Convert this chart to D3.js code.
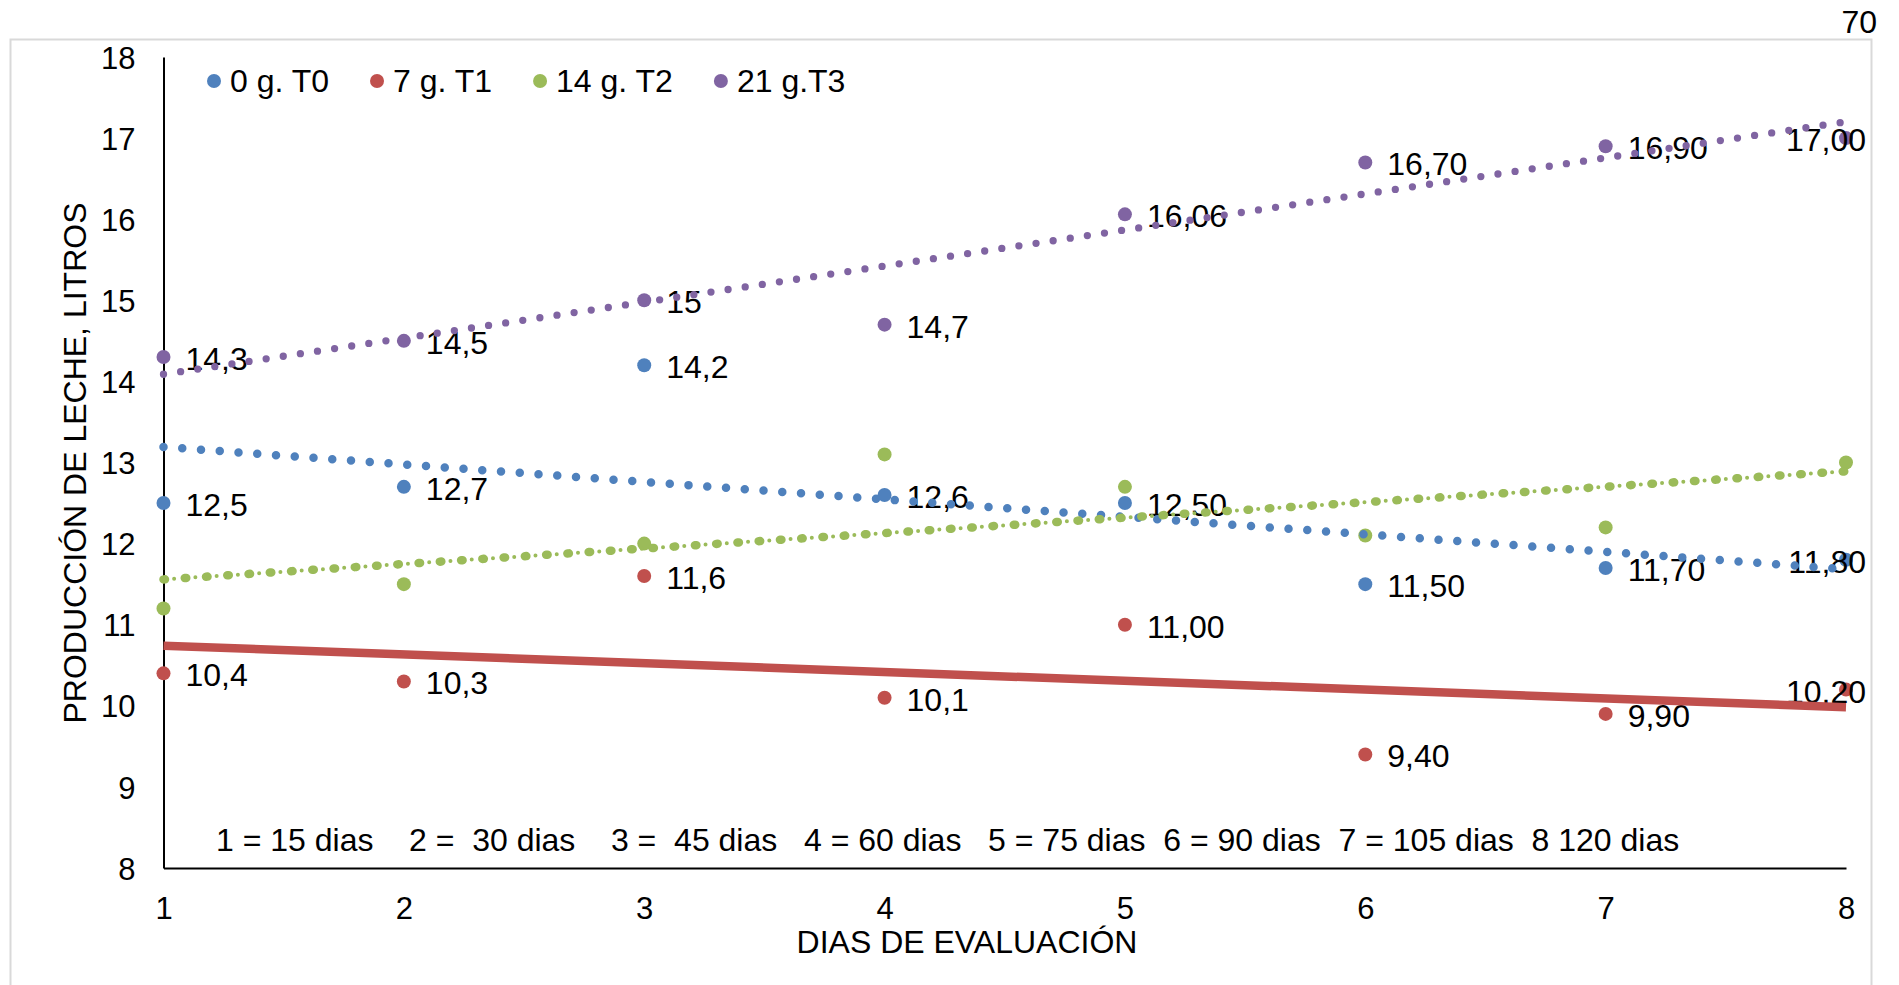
<!DOCTYPE html>
<html>
<head>
<meta charset="utf-8">
<script src="https://cdn.jsdelivr.net/npm/d3@7"></script>
<style>
  html, body { margin: 0; padding: 0; background: #ffffff; }
  svg { display: block; font-family: "Liberation Sans", Arial, sans-serif; }
  text { white-space: pre; }
</style>
</head>
<body>
<svg id="chart" width="1899" height="985"></svg>
<script>
// ---- data ----
const days = [1, 2, 3, 4, 5, 6, 7, 8];
const seriesNames = ["0 g. T0", "7 g. T1", "14 g. T2", "21 g.T3"];
const t0Values = [12.5, 12.7, 14.2, 12.6, 12.5, 11.5, 11.7, 11.8];
const t0Labels = ["12,5", "12,7", "14,2", "12,6", "12,50", "11,50", "11,70", "11,80"];
const t1Values = [10.4, 10.3, 11.6, 10.1, 11.0, 9.4, 9.9, 10.2];
const t1Labels = ["10,4", "10,3", "11,6", "10,1", "11,00", "9,40", "9,90", "10,20"];
const t2Values = [11.2, 11.5, 12.0, 13.1, 12.7, 12.1, 12.2, 13.0];
const t3Values = [14.3, 14.5, 15.0, 14.7, 16.06, 16.70, 16.90, 17.00];
const t3Labels = ["14,3", "14,5", "15", "14,7", "16,06", "16,70", "16,90", "17,00"];
const yTicks = [8, 9, 10, 11, 12, 13, 14, 15, 16, 17, 18];
const xTicks = [1, 2, 3, 4, 5, 6, 7, 8];
const xTitle = "DIAS DE EVALUACIÓN";
const yTitle = "PRODUCCIÓN DE LECHE, LITROS";
const noteText = "1 = 15 dias    2 =  30 dias    3 =  45 dias   4 = 60 dias   5 = 75 dias  6 = 90 dias  7 = 105 dias  8 120 dias";
const cornerText = "70";

// ---- styles ----
const colors = ["#4f81bd", "#c0504d", "#9bbb59", "#8064a2"];
const series = [
  { name: seriesNames[0], values: t0Values, labels: t0Labels, color: colors[0] },
  { name: seriesNames[1], values: t1Values, labels: t1Labels, color: colors[1] },
  { name: seriesNames[2], values: t2Values, labels: null, color: colors[2] },
  { name: seriesNames[3], values: t3Values, labels: t3Labels, color: colors[3] }
];

const svg = d3.select("#chart");
const FS = 32;

// outer chart frame
svg.append("rect")
  .attr("x", 10.5).attr("y", 39.5)
  .attr("width", 1861).attr("height", 960)
  .attr("fill", "none").attr("stroke", "#d9d9d9").attr("stroke-width", 2);

// corner text
svg.append("text").attr("x", 1877).attr("y", 33)
  .attr("text-anchor", "end").attr("font-size", FS).attr("fill", "#000")
  .text(cornerText);

const x = d3.scaleLinear().domain([1, 8]).range([163.5, 1846]);
const y = d3.scaleLinear().domain([8, 18]).range([868, 57]);

// axes
const yAxis = svg.append("g").attr("transform", `translate(${x(1)},0)`)
  .call(d3.axisLeft(y).tickValues(yTicks).tickSize(0).tickSizeOuter(0).tickPadding(28).tickFormat(d3.format("d")));
const xAxis = svg.append("g").attr("transform", `translate(0,${y(8)})`)
  .call(d3.axisBottom(x).tickValues(xTicks).tickSize(0).tickSizeOuter(0).tickPadding(29).tickFormat(d3.format("d")));
[yAxis, xAxis].forEach(g => {
  g.select(".domain").attr("stroke", "#000").attr("stroke-width", 2);
  g.selectAll("text").attr("font-size", 31).attr("fill", "#000")
    .attr("font-family", "'Liberation Sans', Arial, sans-serif");
});
yAxis.selectAll("text").attr("dy", "0.36em");

// axis titles
svg.append("text").attr("x", 967).attr("y", 953)
  .attr("text-anchor", "middle").attr("font-size", FS).attr("fill", "#000").text(xTitle);
svg.append("text").attr("transform", "translate(86,463) rotate(-90)")
  .attr("text-anchor", "middle").attr("font-size", FS).attr("fill", "#000").text(yTitle);

// note text
svg.append("text").attr("x", 216).attr("y", 851)
  .attr("font-size", FS).attr("fill", "#000").text(noteText);

// legend
const legend = svg.append("g");
let lx = 214;
series.forEach(s => {
  legend.append("circle").attr("cx", lx).attr("cy", 81).attr("r", 7).attr("fill", s.color);
  const t = legend.append("text").attr("x", lx + 16).attr("y", 92)
    .attr("font-size", FS).attr("fill", "#000").text(s.name);
  const w = t.node().getComputedTextLength();
  lx = lx + 16 + w + 48;
});

// markers
series.forEach(s => {
  svg.append("g").selectAll("circle").data(s.values).join("circle")
    .attr("cx", (d, i) => x(days[i]))
    .attr("cy", d => y(d))
    .attr("r", 7)
    .attr("fill", s.color);
});

// data labels
const labelRight = 1866;
series.forEach(s => {
  if (!s.labels) return;
  const g = svg.append("g");
  s.values.forEach((v, i) => {
    const t = g.append("text")
      .attr("x", x(days[i]) + 22)
      .attr("y", y(v) + 13)
      .attr("font-size", FS).attr("fill", "#000")
      .text(s.labels[i]);
    const w = t.node().getComputedTextLength();
    if (x(days[i]) + 22 + w > labelRight) t.attr("x", labelRight - w);
  });
});

// linear trendlines (least squares)
function fit(vals) {
  const n = vals.length;
  const mx = d3.mean(days), my = d3.mean(vals);
  let sxy = 0, sxx = 0;
  for (let i = 0; i < n; i++) {
    sxy += (days[i] - mx) * (vals[i] - my);
    sxx += (days[i] - mx) * (days[i] - mx);
  }
  const b = sxy / sxx, a = my - b * mx;
  return [[days[0], a + b * days[0]], [days[n - 1], a + b * days[n - 1]]];
}
const line = d3.line().x(d => x(d[0])).y(d => y(d[1]));

// T0: round dots
svg.append("path").attr("d", line(fit(t0Values)))
  .attr("fill", "none").attr("stroke", colors[0]).attr("stroke-width", 8.5)
  .attr("stroke-linecap", "round").attr("stroke-dasharray", "0 18.8");
// T1: solid thick
svg.append("path").attr("d", line(fit(t1Values)))
  .attr("fill", "none").attr("stroke", colors[1]).attr("stroke-width", 8.5)
  .attr("stroke-linecap", "butt");
// T2: round dash-dot
svg.append("path").attr("d", line(fit(t2Values)))
  .attr("fill", "none").attr("stroke", colors[2]).attr("stroke-width", 8.5)
  .attr("stroke-linecap", "round").attr("stroke-dasharray", "1.5 19.8");
svg.append("path").attr("d", line(fit(t2Values)))
  .attr("fill", "none").attr("stroke", colors[2]).attr("stroke-width", 4)
  .attr("stroke-linecap", "round").attr("stroke-dasharray", "0 21.3")
  .attr("stroke-dashoffset", -10.65);
// T3: round dots
svg.append("path").attr("d", line(fit(t3Values)))
  .attr("fill", "none").attr("stroke", colors[3]).attr("stroke-width", 7.3)
  .attr("stroke-linecap", "round").attr("stroke-dasharray", "0 17.3");
</script>
</body>
</html>
